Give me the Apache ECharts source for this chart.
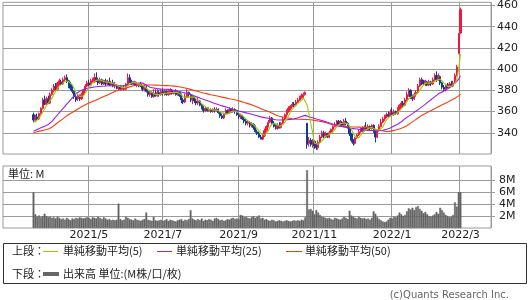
<!DOCTYPE html>
<html><head><meta charset="utf-8">
<script src="https://cdn.jsdelivr.net/npm/echarts@6/dist/echarts.min.js"></script>
<style>html,body{margin:0;padding:0;background:#fff}#c{width:530px;height:300px}</style>
</head><body><div id="c"></div>
<script>
// Exchange holidays on weekdays inside the axis range
const holidays = ['2021-04-29','2021-05-03','2021-05-04','2021-05-05','2021-07-22','2021-07-23','2021-08-09',
  '2021-09-20','2021-09-23','2021-11-03','2021-11-23','2021-12-31','2022-01-03','2022-01-10','2022-02-11',
  '2022-02-23','2022-03-21'];
const axisFirst = '2021-02-25', axisLast = '2022-03-24', dataFirst = '2021-03-19';

// [open, close, low, high]
const ohlc = [
[357,352,350,359],[352,355,350,357],[355,353,351,358],[353,358,352,359],[358,363,357,364],[363,370,362,373],[371,367,366,375],[367,372,366,374],[372,368,367,375],[368,376,367,378],
[376,380,375,382],[380,384,378,386],[384,381,380,387],[381,387,380,388],[387,389,385,391],[388,386,385,390],[386,390,385,392],[390,392,388,394],[392,389,387,395],[389,384,382,390],
[386,382,380,388],[382,379,377,384],[379,374,372,380],[374,371,369,376],[372,375,370,377],[375,372,370,376],[372,376,371,378],[376,380,375,381],[380,384,379,386],[384,387,383,389],
[387,385,384,390],[385,389,384,391],[389,391,387,392],[388,392,387,396],[392,390,388,397],[390,387,385,392],[387,390,386,392],[390,386,385,391],[386,389,385,390],[389,386,384,391],
[386,388,385,390],[388,385,384,392],[385,387,384,389],[387,384,383,390],[384,385,382,388],[385,382,381,386],[382,383,380,385],[383,381,380,385],[381,383,380,384],[383,381,380,385],
[381,386,380,387],[386,392,385,396],[392,388,387,395],[388,386,385,390],[386,388,385,389],[388,385,384,389],[385,386,383,388],[386,384,383,387],[386,384,383,388],[384,381,379,385],
[381,383,379,385],[383,379,378,384],[379,376,374,381],[376,378,374,380],[378,374,373,379],[374,377,373,381],[377,375,374,381],[375,378,374,381],[378,376,374,380],[376,379,375,381],
[379,377,375,382],[377,379,375,381],[379,376,375,380],[376,378,375,380],[378,380,376,382],[380,377,376,381],[377,379,376,380],[379,376,375,381],[376,378,375,380],[378,375,374,379],
[375,371,368,377],[371,369,367,373],[369,374,368,377],[374,378,373,381],[378,376,374,379],[376,371,369,377],[371,374,367,376],[374,370,368,375],[370,368,366,372],[368,370,366,373],
[370,366,365,371],[366,363,362,367],[363,361,359,365],[361,363,360,365],[363,361,360,364],[361,362,360,364],[362,360,359,363],[360,362,359,363],[362,361,359,364],[361,362,360,364],
[362,359,358,363],[359,356,354,360],[356,354,353,358],[354,358,353,359],[358,361,357,363],[361,359,358,362],[359,362,358,364],[362,360,359,363],[360,362,359,364],[362,360,358,363],
[360,357,356,361],[357,355,353,359],[355,356,353,358],[356,353,352,357],[353,351,349,355],[351,349,347,354],[349,350,347,352],[350,347,345,351],[347,348,345,350],[348,345,343,349],
[345,341,340,347],[341,339,338,343],[339,336,335,341],[336,334,334,338],[334,337,333,339],[337,342,336,344],[342,346,341,347],[346,350,345,352],[350,354,349,356],[354,349,347,355],
[349,346,345,351],[346,344,343,348],[344,347,343,349],[347,345,344,350],[345,349,344,350],[349,353,348,355],[353,357,352,358],[357,360,355,362],[360,363,359,365],[363,365,361,366],
[365,367,364,369],[367,366,364,369],[366,369,365,371],[369,371,368,373],[371,373,370,375],[373,375,372,377],[375,376,373,378],[376,378,375,379],[349,329,325,349],[330,333,327,336],
[333,329,327,335],[329,332,326,334],[332,328,325,333],[328,326,324,330],[326,331,324,333],[331,336,330,338],[336,340,335,342],[340,337,335,342],[337,339,335,341],[339,336,335,340],
[336,340,335,342],[340,343,339,344],[343,346,341,347],[346,348,345,350],[348,351,347,352],[351,348,347,352],[348,350,346,352],[350,347,346,351],[347,351,346,353],[351,349,347,354],
[349,345,344,350],[345,339,337,346],[339,333,331,340],[333,330,328,334],[330,335,329,336],[335,338,334,339],[338,341,337,343],[341,344,340,345],[344,342,341,346],[342,345,341,347],
[345,343,342,350],[343,346,342,348],[346,344,342,347],[344,347,343,348],[347,342,340,348],[342,336,331,343],[336,342,335,343],[342,346,341,348],[346,350,345,353],[350,353,349,355],
[353,355,351,357],[355,357,354,359],[357,356,355,360],[356,359,355,362],[359,357,356,364],[357,360,356,362],[360,358,357,361],[358,362,357,364],[362,366,361,367],[364,368,363,370],
[368,366,364,370],[366,371,365,373],[371,376,370,379],[376,380,374,382],[380,374,372,381],[374,372,370,376],[372,376,371,378],[376,378,374,380],[378,384,377,386],[384,390,383,392],
[390,387,385,392],[389,386,385,390],[386,388,384,390],[388,385,384,389],[385,388,384,390],[388,386,384,389],[386,390,385,392],[390,394,389,396],[394,390,388,398],[390,393,389,396],
[393,387,385,394],[387,383,381,388],[383,381,379,385],[381,385,379,386],[385,383,382,387],[383,386,382,388],[386,384,383,389],[384,387,383,389],[387,394,386,396],[394,402,393,404],
[415,433,414,434],[434,456,433,458]
];

const ma5 = [
350,351,352,353.5,356.2,359.8,362.2,366,368,370.6,
372.6,376,377.8,381.6,384.2,385.4,386.6,388.8,389.2,388.2,
387.4,385.2,381.6,378,376.2,374.2,373.6,374.8,377.4,379.8,
382.4,385,387.2,388.8,389.4,389.8,390,389,388.4,387.6,
387.8,386.8,387,386,385.8,384.6,384.2,383,382.8,382,
382.8,384.6,386,386.6,388,387.8,386.6,385.8,385.4,384,
383.6,382.2,380.6,379.4,378,376.8,376,376.4,376,377,
377,377.8,377.4,377.8,378,378,378,378,378,377,
375.8,373.8,373.4,373.4,373.6,373.6,374.6,373.8,371.8,370.6,
369.6,367.4,365.6,364.6,362.8,362,361.4,361.6,361.2,361.4,
360.8,360,358.4,357.8,357.6,357.6,358.8,360,360.8,360.6,
360.2,358.8,358,356.2,354.4,352.8,351.8,350,349,347.8,
346.2,344,341.8,339,337.4,337.6,339,341.8,345.8,348.2,
349,348.6,348,346.2,346.2,347.6,350.2,352.8,356.4,359.6,
362.4,364.2,366,367.6,369.2,370.8,372.8,374.6,366.2,358.2,
349,340.2,330.2,329.6,329.2,330.6,332.2,334,336.6,337.6,
338.4,339,340.8,342.6,345.6,347.2,348.6,348.8,349.4,349,
348.4,346.2,343.4,339.2,336.4,335,335.4,337.6,340,342,
343,344,344,345,344.4,343,342.2,342.6,343.2,345.4,
349.2,352.2,354.2,356,356.8,357.8,358,359.2,360.6,362.8,
364,366.6,369.4,372.2,373.4,374.6,375.6,376,376.8,380,
383,385,387,387.2,386.8,386.6,387.4,388.6,389.6,390.6,
390.8,389.4,386.8,385.8,383.8,383.6,383.8,385,386.8,390.6,
400,414.4
];

const ma25 = [
341.5,342.3,343.1,343.9,344.7,345.5,346.2,347.0,347.8,348.6,
350.7,352.8,354.9,357.0,359.0,361.0,363.0,365.0,367.0,369.0,
371.0,373.0,375.0,377.0,378.2,379.2,380.0,380.8,381.4,382.0,
382.3,382.6,382.9,383.2,383.5,383.6,383.8,383.9,384.0,384.1,
384.3,384.4,384.4,384.4,384.4,384.4,384.4,384.4,384.4,384.4,
384.4,384.9,385.4,386.0,386.5,386.6,386.7,386.8,386.9,387.0,
386.0,385.0,384.0,383.0,382.7,382.3,382.0,381.6,381.3,381.2,
381.1,381.0,381.0,380.9,380.8,380.4,380.1,379.7,379.4,379.0,
378.5,378.0,377.5,377.0,376.5,375.9,375.3,374.6,374.0,373.4,
372.8,372.1,371.5,370.9,370.3,369.7,369.1,368.4,367.8,367.2,
366.6,366.0,365.4,364.9,364.3,363.8,363.2,362.7,362.1,361.6,
361.0,360.6,360.1,359.7,359.2,358.8,358.4,357.9,357.5,357.0,
356.5,356.0,355.5,355.0,354.7,354.3,354.0,353.7,353.3,353.0,
352.7,352.3,352.0,352.0,352.0,352.1,352.2,352.3,352.5,352.6,
352.8,353.0,353.5,354.1,354.7,355.3,355.9,356.4,355.8,355.2,
354.6,354.1,353.5,353.0,352.5,352.0,351.5,351.0,350.4,349.9,
349.3,348.7,348.1,347.6,347.0,346.6,346.2,345.8,345.5,345.1,
344.7,344.3,344.1,343.9,343.7,343.5,343.2,343.0,342.8,342.6,
342.4,342.3,342.2,342.1,342.0,342.0,342.0,342.1,342.2,342.4,
342.9,343.4,344.0,344.5,345.4,346.3,347.2,348.1,349.0,350.4,
351.9,353.3,354.5,355.7,356.9,358.1,359.4,360.6,361.8,363.0,
364.2,365.6,367.0,368.4,369.8,371.1,372.5,373.9,375.3,376.7,
377.5,378.5,379.5,380.4,381.3,382.5,384.0,385.5,387.0,388.5,
390.5,393.7
];

const ma50 = [
340.0,340.4,340.9,341.3,341.8,342.2,342.7,343.1,343.6,344.0,
345.3,346.7,348.0,349.3,350.7,352.0,353.3,354.7,356.0,357.1,
358.2,359.2,360.3,361.4,362.5,363.5,364.6,365.7,366.5,367.2,
368.0,368.7,369.5,370.2,371.0,371.7,372.5,373.3,374.1,374.9,
375.7,376.5,377.3,378.1,378.9,379.7,380.2,380.7,381.3,381.8,
382.3,382.8,383.3,383.9,384.4,384.5,384.6,384.7,384.7,384.8,
384.9,384.9,385.0,385.0,385.0,384.9,384.9,384.8,384.8,384.7,
384.6,384.6,384.5,384.4,384.3,384.2,384.0,383.8,383.6,383.3,
383.0,382.6,382.2,381.8,381.4,380.9,380.4,379.9,379.4,378.9,
378.4,378.0,377.5,377.1,376.7,376.3,375.9,375.6,375.2,374.8,
374.4,374.0,373.6,373.2,372.9,372.5,372.1,371.7,371.4,371.0,
370.6,370.1,369.6,369.1,368.5,368.0,367.5,367.0,366.5,365.7,
365.0,364.2,363.5,362.7,362.0,361.4,360.7,360.0,359.3,358.5,
357.7,356.8,356.0,355.6,355.2,354.8,354.4,354.0,353.8,353.5,
353.3,353.0,352.9,352.8,352.8,352.7,352.6,352.5,352.5,352.4,
352.3,352.0,351.7,351.4,351.1,350.8,350.5,350.2,349.7,349.1,
348.6,348.1,347.6,347.0,346.5,346.4,346.2,346.1,346.0,345.8,
345.7,345.5,345.5,345.4,345.4,345.3,345.3,345.2,345.2,345.1,
345.1,345.0,345.0,344.5,344.0,343.5,342.9,342.4,342.1,341.8,
341.6,341.3,341.0,341.4,341.8,342.2,342.6,343.0,343.6,344.3,
344.9,345.5,346.7,347.9,349.1,350.3,351.5,352.8,354.0,355.2,
356.4,357.3,358.2,359.1,360.0,360.9,361.8,362.7,363.6,364.5,
365.4,366.3,367.2,368.1,368.9,369.8,370.7,371.6,372.5,373.5,
374.8,376.5
];

// volume in millions
const volume = [
6.0,2.3,1.9,2.1,1.8,2.0,2.4,2.0,1.8,1.9,
1.7,1.8,1.6,1.9,1.7,1.5,1.6,1.4,1.7,1.5,
1.3,1.6,1.5,1.7,1.6,1.8,1.7,1.6,1.7,1.8,
1.7,1.5,1.8,1.7,1.6,1.9,1.7,1.5,1.8,1.6,
1.4,1.5,1.3,1.4,1.3,1.4,4.1,1.5,1.3,1.4,
1.9,1.7,1.5,1.4,1.3,1.6,1.4,1.3,1.2,1.4,
1.5,2.6,1.4,1.3,1.2,1.9,1.3,1.2,1.3,1.4,
1.2,1.3,1.5,1.2,1.4,1.3,1.2,1.1,1.3,1.4,
1.5,1.2,1.4,1.3,1.5,3.0,1.6,1.4,1.3,1.5,
1.3,1.6,1.2,1.4,1.3,1.5,1.4,1.2,1.6,1.7,
1.5,1.3,1.4,1.2,1.3,1.5,1.4,1.6,1.7,1.5,
1.6,1.5,2.2,2.1,1.8,1.9,1.7,1.6,1.8,2.0,
1.7,1.9,2.1,1.6,1.7,1.4,1.5,1.3,1.2,1.4,
1.3,1.1,1.2,1.3,1.2,1.1,1.2,1.3,1.2,1.1,
1.2,1.3,1.2,1.3,1.2,1.4,1.3,1.8,9.7,3.1,
3.2,2.9,2.3,3.0,2.6,2.2,1.9,1.8,1.7,1.6,
1.7,1.5,1.4,1.7,1.6,1.5,1.4,1.6,1.9,1.7,
1.5,2.9,2.1,1.9,1.7,1.6,1.9,1.7,1.6,1.7,
1.5,1.6,1.4,1.7,2.8,2.4,1.8,1.5,1.3,1.1,
1.0,1.1,1.4,1.7,1.6,1.9,1.8,2.1,2.6,2.3,
2.0,2.2,2.8,3.3,3.1,3.4,3.0,3.5,3.7,3.2,
2.9,2.5,2.7,2.3,2.0,1.9,2.1,2.3,2.7,2.4,
3.4,3.0,2.6,2.2,2.0,1.8,1.9,2.2,4.3,3.6,
6.0,6.0
];

const priceTicks = [340,360,380,400,420,440,460];
const volumeTicks = [2,4,6,8];

const upColor = '#f2173f', downColor = '#0d3b99';
const c5 = '#99cc00', c25 = '#9a1ff0', c50 = '#ff3a0a';
const gridColor = '#9a9a9a';
const latin = '"DejaVu Sans", sans-serif';
const cjk = '"Noto Sans CJK JP", "DejaVu Sans", sans-serif';

function tradingDays() {
  const out = [];
  const d = new Date(axisFirst + 'T00:00:00Z');
  const end = new Date(axisLast + 'T00:00:00Z');
  while (d <= end) {
    const s = d.toISOString().slice(0, 10);
    const wd = d.getUTCDay();
    if (wd !== 0 && wd !== 6 && holidays.indexOf(s) < 0) out.push(s);
    d.setUTCDate(d.getUTCDate() + 1);
  }
  return out;
}
const dates = tradingDays();
const start = dates.indexOf(dataFirst);
function pad(arr, empty) {
  return dates.map((_, i) => (i >= start && i - start < arr.length) ? arr[i - start] : empty);
}
function isMarker(i) {
  if (i < 20) return false;
  const m = +dates[i].slice(5, 7), pm = +dates[i - 1].slice(5, 7);
  return m !== pm && m % 2 === 1;
}
const fmtDate = v => (+v.slice(0, 4)) + '/' + (+v.slice(5, 7));

const chart = echarts.init(document.getElementById('c'), null, {renderer: 'canvas'});
const lineSeries = (name, data, color) => ({
  name, type: 'line', xAxisIndex: 0, yAxisIndex: 0, data: pad(data, '-'),
  showSymbol: false, symbol: 'none', connectNulls: false, z: 5,
  lineStyle: {color, width: 1.1}, itemStyle: {color}, silent: true
});

chart.setOption({
  animation: false,
  backgroundColor: '#fff',
  grid: [
    {left: 3, right: 39, top: 1, height: 153, show: true, borderColor: gridColor, borderWidth: 1, backgroundColor: 'transparent'},
    {left: 3, right: 39, top: 166, height: 62, show: true, borderColor: gridColor, borderWidth: 1, backgroundColor: 'transparent'}
  ],
  xAxis: [
    {type: 'category', gridIndex: 0, data: dates, boundaryGap: true,
     axisLine: {show: false}, axisTick: {show: false}, axisLabel: {show: false},
     splitLine: {show: true, interval: (i) => isMarker(i), lineStyle: {color: gridColor, width: 1}}},
    {type: 'category', gridIndex: 1, data: dates, boundaryGap: true,
     axisLine: {show: false}, axisTick: {show: false},
     axisLabel: {show: true, interval: (i) => isMarker(i), formatter: fmtDate, margin: 2,
                 fontSize: 11, fontFamily: latin, color: '#222'},
     splitLine: {show: true, interval: (i) => isMarker(i), lineStyle: {color: gridColor, width: 1}}}
  ],
  yAxis: [
    {type: 'value', gridIndex: 0, position: 'right', min: 320, max: 463, interval: 20,
     axisLine: {show: false},
     axisTick: {show: true, length: 4, customValues: priceTicks, lineStyle: {color: gridColor}},
     axisLabel: {show: true, customValues: priceTicks, margin: 6, fontSize: 11, fontFamily: latin, color: '#222',
                 formatter: v => (priceTicks.indexOf(v) >= 0 ? String(v) : '')},
     splitLine: {show: true, lineStyle: {color: gridColor, width: 1}}},
    {type: 'value', gridIndex: 1, position: 'right', min: 0, max: 10.4, interval: 2,
     axisLine: {show: false},
     axisTick: {show: true, length: 4, customValues: volumeTicks, lineStyle: {color: gridColor}},
     axisLabel: {show: true, customValues: volumeTicks, margin: 8, fontSize: 11, fontFamily: latin, color: '#222',
                 formatter: v => (volumeTicks.indexOf(v) >= 0 ? v + 'M' : '')},
     splitLine: {show: true, lineStyle: {color: gridColor, width: 1}}}
  ],
  series: [
    {name: 'price', type: 'candlestick', xAxisIndex: 0, yAxisIndex: 0,
     data: pad(ohlc, ['-', '-', '-', '-']), barWidth: 1.7, z: 3, silent: true,
     itemStyle: {color: upColor, color0: downColor, borderColor: upColor, borderColor0: downColor, borderWidth: 1}},
    lineSeries('単純移動平均(50)', ma50, c50),
    lineSeries('単純移動平均(25)', ma25, c25),
    lineSeries('単純移動平均(5)', ma5, c5),
    {name: '出来高', type: 'bar', xAxisIndex: 1, yAxisIndex: 1, data: pad(volume, '-'),
     barWidth: '100%', barCategoryGap: 0, silent: true,
     itemStyle: {color: '#646464', borderColor: '#646464', borderWidth: 0.5}}
  ],
  graphic: [
    {type: 'text', x: 8, y: 174, style: {text: '単位: M', font: '11px ' + cjk, fill: '#222', verticalAlign: 'middle'}},
    {type: 'rect', shape: {x: 3.5, y: 243.5, width: 523, height: 40}, style: {fill: 'none', stroke: '#333', lineWidth: 1}},
    {type: 'text', x: 12, y: 251, style: {text: '上段：', font: '11px ' + cjk, fill: '#222', verticalAlign: 'middle'}},
    {type: 'line', shape: {x1: 43, y1: 251.5, x2: 58, y2: 251.5}, style: {stroke: c5, lineWidth: 1}},
    {type: 'text', x: 63, y: 251, style: {text: '単純移動平均(5)', font: '11px ' + cjk, fill: '#222', verticalAlign: 'middle'}},
    {type: 'line', shape: {x1: 157, y1: 251.5, x2: 172, y2: 251.5}, style: {stroke: c25, lineWidth: 1}},
    {type: 'text', x: 176, y: 251, style: {text: '単純移動平均(25)', font: '11px ' + cjk, fill: '#222', verticalAlign: 'middle'}},
    {type: 'line', shape: {x1: 286, y1: 251.5, x2: 302, y2: 251.5}, style: {stroke: c50, lineWidth: 1}},
    {type: 'text', x: 305, y: 251, style: {text: '単純移動平均(50)', font: '11px ' + cjk, fill: '#222', verticalAlign: 'middle'}},
    {type: 'text', x: 12, y: 274, style: {text: '下段：', font: '11px ' + cjk, fill: '#222', verticalAlign: 'middle'}},
    {type: 'line', shape: {x1: 43, y1: 274, x2: 59, y2: 274}, style: {stroke: '#666', lineWidth: 4}},
    {type: 'text', x: 63, y: 274, style: {text: '出来高 単位:(M株/口/枚)', font: '11px ' + cjk, fill: '#222', verticalAlign: 'middle'}},
    {type: 'text', x: 509, y: 295, style: {text: '(c)Quants Research Inc.', font: '10px ' + latin, fill: '#666', align: 'right', verticalAlign: 'middle'}}
  ]
});
</script>
</body></html>
